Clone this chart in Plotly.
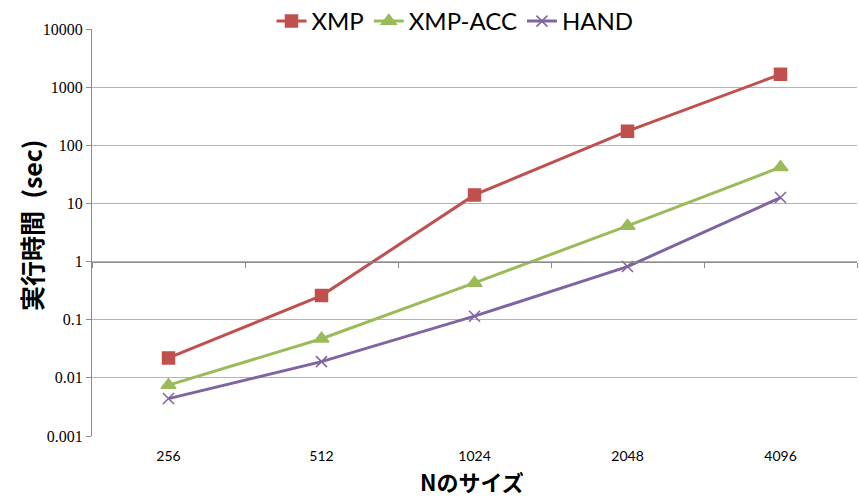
import math
import plotly.graph_objects as go

# Matrix size N and measured run times (seconds)
sizes = ["256", "512", "1024", "2048", "4096"]
xmp = [0.022, 0.26, 14.0, 175, 1660]
xmp_acc = [0.0075, 0.047, 0.43, 4.1, 42]
hand = [0.0044, 0.019, 0.115, 0.82, 12.6]

y_ticks = [0.001, 0.01, 0.1, 1, 10, 100, 1000, 10000]
y_tick_text = ["0.001", "0.01", "0.1", "1", "10", "100", "1000", "10000"]

series = [
    ("XMP", xmp, "#C0504D", "square", 12),
    ("XMP-ACC", xmp_acc, "#9BBB59", "triangle-up", 13),
    ("HAND", hand, "#8064A2", "x-thin", 11),
]

fig = go.Figure()
for name, vals, color, symbol, size in series:
    fig.add_trace(go.Scatter(
        x=sizes, y=vals, name=name, mode="lines+markers",
        line=dict(color=color, width=3),
        marker=dict(symbol=symbol, size=size, color=color,
                    line=dict(color=color, width=1.5)),
    ))

y_lo, y_hi = math.log10(y_ticks[0]), math.log10(y_ticks[-1])
cross = (0 - y_lo) / (y_hi - y_lo)  # value axis crosses at y = 1
x_range = [-0.5, len(sizes) - 0.5]

# Category axis line drawn where the log axis passes through 1
fig.add_trace(go.Scatter(x=sizes, y=[None] * len(sizes), xaxis="x2",
                         showlegend=False, hoverinfo="skip"))

W, H = 859, 496
L, R, T, B = 92, 2, 29, 60
pw, ph = W - L - R, H - T - B

title_font = dict(family="Noto Sans CJK JP", color="#000")

grid = "#b4b4b4"
fig.update_layout(
    width=W, height=H,
    margin=dict(l=L, r=R, t=T, b=B, autoexpand=False),
    paper_bgcolor="white", plot_bgcolor="white",
    showlegend=True,
    legend=dict(orientation="h", xref="paper", yref="paper",
                x=(455 - L) / pw, xanchor="center",
                y=(H - B + 1) / ph, yanchor="top",
                font=dict(family="Lato, sans-serif", size=24, color="#000"),
                tracegroupgap=0, bgcolor="rgba(0,0,0,0)"),
    xaxis=dict(type="category", range=x_range, showgrid=False, showline=False,
               ticks="", zeroline=False,
               tickfont=dict(family="Lato, sans-serif", size=14, color="#000"),
               ticklabelstandoff=10),
    xaxis2=dict(type="category", overlaying="x", anchor="free", position=cross,
                range=x_range, showline=True, linecolor="#8c8c8c", linewidth=1,
                ticks="outside", tickson="boundaries", ticklen=5,
                tickcolor="#8c8c8c", showticklabels=False, showgrid=False),
    yaxis=dict(type="log", range=[y_lo, y_hi], tickvals=y_ticks,
               ticktext=y_tick_text, showgrid=True, gridcolor=grid, gridwidth=1,
               showline=True, linecolor="#8c8c8c", linewidth=1,
               ticks="outside", ticklen=5, tickcolor="#8c8c8c",
               zeroline=False,
               tickfont=dict(family="Liberation Serif, serif", size=16, color="#000")),
    annotations=[
        dict(text="<b>Nのサイズ</b>", xref="paper", yref="paper",
             x=(472 - L) / pw, y=(H - B - 481) / ph,
             xanchor="center", yanchor="middle", showarrow=False,
             font=dict(size=22, **title_font)),
        dict(text="<b>実行時間\u2002(sec)</b>", xref="paper", yref="paper",
             x=(31 - L) / pw, y=(H - B - 226) / ph, textangle=-90,
             xanchor="center", yanchor="middle", showarrow=False,
             font=dict(size=25, **title_font)),
    ],
)

fig.write_html("out.html")
